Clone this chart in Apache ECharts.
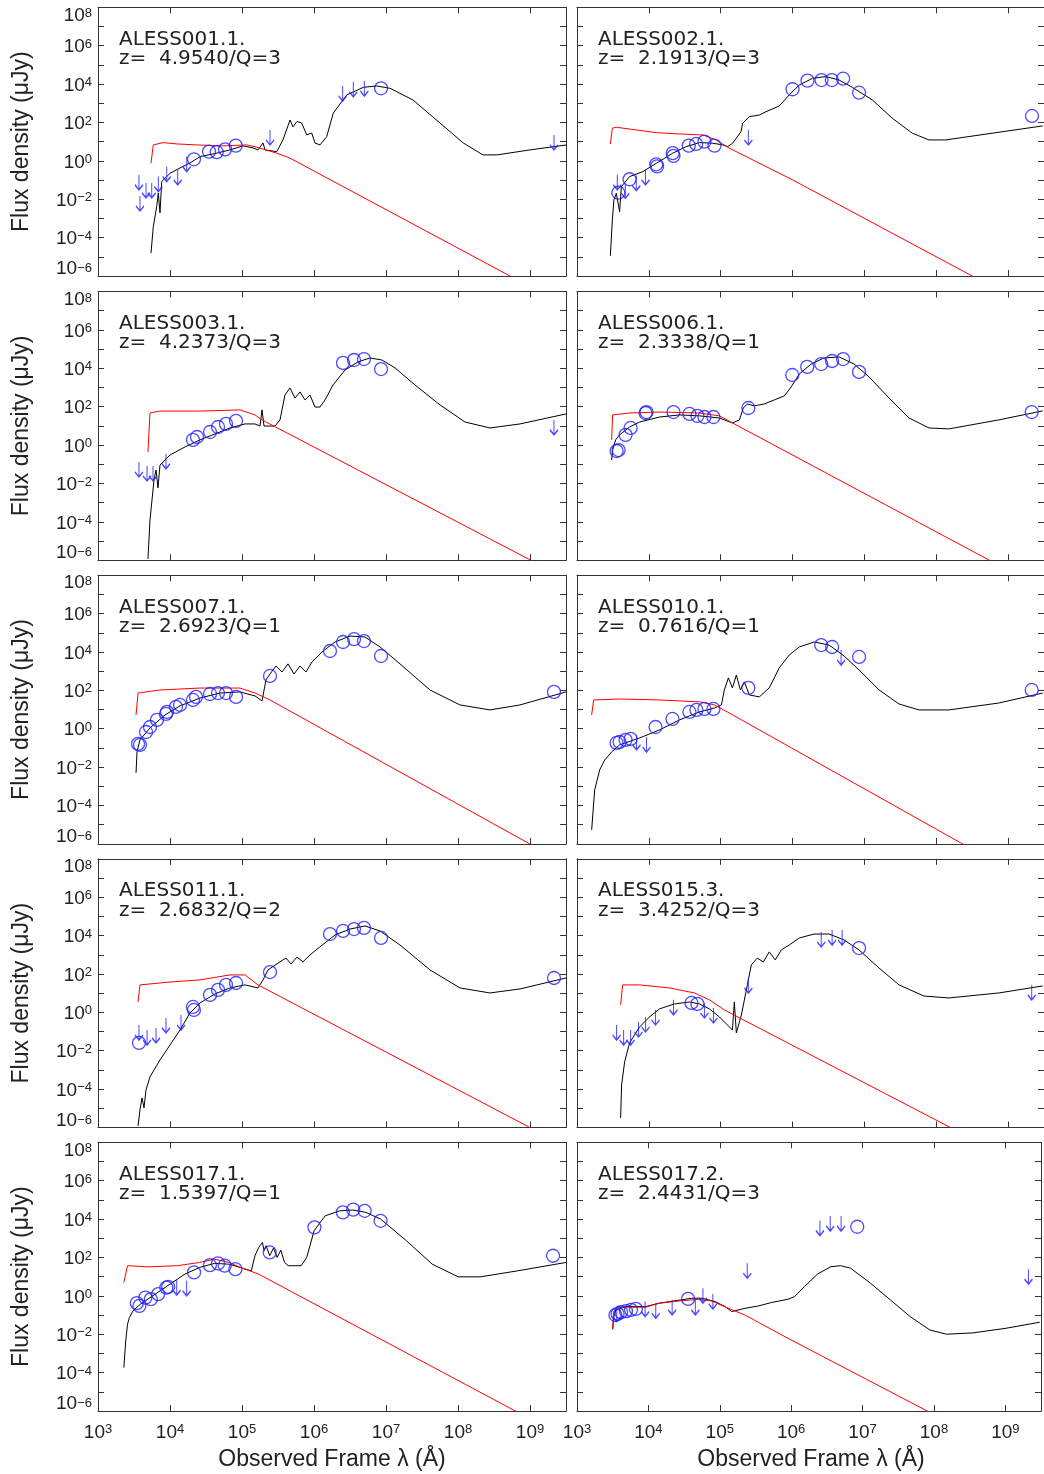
<!DOCTYPE html>
<html><head><meta charset="utf-8">
<script src="https://cdn.jsdelivr.net/npm/echarts@6/dist/echarts.min.js"></script>
<style>html,body{margin:0;padding:0;background:#fff}#c{width:1044px;height:1474px}</style>
</head><body><div id="c"></div>
<script>
// All values are log10: x = log10(observed wavelength / Angstrom), y = log10(flux density / microJy)
const sources = ["ALESS001.1.","ALESS002.1.","ALESS003.1.","ALESS006.1.","ALESS007.1.","ALESS010.1.","ALESS011.1.","ALESS015.3.","ALESS017.1.","ALESS017.2."];
const redshifts = ["4.9540","2.1913","4.2373","2.3338","2.6923","0.7616","2.6832","3.4252","1.5397","2.4431"];
const quality = [3,3,3,1,1,1,2,3,1,3];
const xTickExp = [3,4,5,6,7,8,9];
const yTickExp = [-6,-4,-2,0,2,4,6,8];

// ---- ALESS001.1 ----
const m1 = [[3.736,-4.81],[3.768,-3.43],[3.815,-2.39],[3.838,-1.67],[3.861,-2.71],[3.885,-1.08],[4.0,-0.65],[4.139,-0.37],[4.278,-0.11],[4.417,0.22],[4.649,0.40],[4.833,0.57],[5.014,0.78],[5.153,0.67],[5.222,0.57],[5.292,0.93],[5.32,0.57],[5.482,0.48],[5.569,1.09],[5.667,2.13],[5.708,1.77],[5.764,2.05],[5.829,1.97],[5.899,1.35],[5.968,1.45],[6.014,0.93],[6.083,0.83],[6.176,1.26],[6.268,2.49],[6.454,3.43],[6.685,3.83],[6.871,3.90],[7.056,3.78],[7.375,3.17],[7.75,1.97],[8.074,0.93],[8.347,0.31],[8.54,0.31],[9.0,0.57],[9.51,0.83]];
const s1 = [[3.736,-0.13],[3.768,0.83],[3.907,0.95],[4.1,0.88],[4.371,0.83],[4.736,0.78],[5.065,0.83],[5.204,0.71],[5.482,0.40],[5.667,0.14],[8.722,-6.0],[9.0,-6.56]];
const d1 = [[4.333,0.08],[4.542,0.48],[4.649,0.45],[4.764,0.60],[4.913,0.79],[6.931,3.78]];
const u1 = [[3.569,-0.73],[3.583,-1.83],[3.667,-1.15],[3.746,-1.15],[3.838,-0.82],[3.954,-0.30],[4.107,-0.47],[4.232,0.22],[5.389,1.61],[6.398,3.90],[6.546,4.12],[6.699,4.16],[9.333,1.35]];

// ---- ALESS002.1 ----
const m2 = [[3.464,-4.95],[3.492,-3.08],[3.514,-2.04],[3.547,-1.69],[3.593,-2.65],[3.617,-1.35],[3.732,-0.82],[3.917,-0.56],[4.103,-0.13],[4.333,0.40],[4.519,0.74],[4.704,0.95],[4.889,0.92],[5.028,0.83],[5.097,0.74],[5.167,0.92],[5.283,1.52],[5.306,1.96],[5.329,1.87],[5.399,2.30],[5.538,2.39],[5.631,2.56],[5.815,2.86],[5.954,3.43],[6.093,3.95],[6.278,4.30],[6.464,4.39],[6.649,4.21],[6.833,3.83],[7.111,3.17],[7.389,2.22],[7.667,1.44],[7.899,1.09],[8.131,1.09],[8.778,1.44],[9.482,1.82]];
const s2 = [[3.464,0.88],[3.492,1.70],[3.547,1.75],[3.825,1.61],[4.103,1.47],[4.426,1.40],[4.75,1.35],[4.936,1.09],[5.121,0.66],[6.0,-0.99],[8.5,-6.0],[9.0,-7.0]];
const d2 = [[3.575,-1.66],[3.732,-0.96],[4.103,-0.18],[4.114,-0.29],[4.333,0.40],[4.343,0.26],[4.556,0.79],[4.658,0.88],[4.774,1.0],[4.913,0.79],[6.0,3.73],[6.208,4.18],[6.403,4.21],[6.547,4.21],[6.704,4.28],[6.926,3.55],[9.333,2.34]];
const u2 = [[3.561,-0.73],[3.672,-1.17],[3.825,-0.77],[3.954,-0.47],[5.385,1.61]];

// ---- ALESS003.1 ----
const m3 = [[3.694,-5.93],[3.722,-3.90],[3.75,-2.86],[3.778,-1.82],[3.806,-1.30],[3.833,-2.23],[3.861,-1.04],[4.0,-0.52],[4.208,-0.10],[4.417,0.27],[4.625,0.58],[4.833,0.89],[5.042,1.10],[5.18,1.10],[5.25,0.99],[5.278,1.83],[5.306,0.99],[5.458,0.99],[5.528,1.31],[5.597,2.61],[5.667,2.97],[5.736,2.45],[5.806,2.77],[5.875,2.35],[5.944,2.61],[6.014,1.98],[6.083,1.98],[6.153,2.35],[6.264,3.13],[6.431,3.91],[6.611,4.33],[6.778,4.54],[6.944,4.43],[7.125,4.02],[7.403,3.13],[7.75,2.09],[8.097,1.20],[8.444,0.89],[8.861,1.10],[9.5,1.62]];
const s3 = [[3.694,-0.36],[3.722,1.67],[3.861,1.77],[4.417,1.77],[4.972,1.83],[5.181,1.57],[5.278,1.31],[9.0,-5.98],[9.5,-6.96]];
const d3 = [[4.319,0.27],[4.375,0.42],[4.556,0.68],[4.667,0.94],[4.778,1.10],[4.917,1.26],[6.403,4.28],[6.556,4.43],[6.694,4.48],[6.931,3.96]];
const u3 = [[3.569,-0.88],[3.681,-1.09],[3.764,-1.09],[3.944,-0.46],[9.333,1.31]];

// ---- ALESS006.1 ----
const m4 = [[3.482,-0.78],[3.496,-0.26],[3.538,0.27],[3.593,0.53],[3.732,0.94],[3.871,1.20],[4.149,1.46],[4.426,1.57],[4.704,1.52],[4.982,1.41],[5.163,1.15],[5.26,1.31],[5.315,1.93],[5.371,2.14],[5.468,2.04],[5.607,2.14],[5.746,2.35],[5.885,2.56],[5.982,3.03],[6.093,3.70],[6.26,4.22],[6.44,4.54],[6.649,4.59],[6.857,4.22],[7.065,3.55],[7.343,2.45],[7.621,1.41],[7.899,0.89],[8.176,0.84],[8.871,1.31],[9.482,1.78]];
const s4 = [[3.482,0.27],[3.496,1.57],[3.732,1.67],[4.149,1.72],[4.704,1.67],[4.982,1.52],[5.19,1.10],[8.729,-5.98],[9.0,-6.5]];
const d4 = [[3.551,-0.31],[3.579,-0.26],[3.676,0.53],[3.746,0.89],[3.954,1.67],[3.968,1.72],[4.343,1.72],[4.565,1.62],[4.676,1.52],[4.774,1.46],[4.899,1.46],[5.385,1.93],[5.996,3.65],[6.204,4.07],[6.399,4.22],[6.551,4.38],[6.704,4.48],[6.926,3.81],[9.329,1.72]];
const u4 = [];

// ---- ALESS007.1 ----
const m5 = [[3.528,-2.30],[3.542,-1.21],[3.583,-0.58],[3.722,0.04],[3.931,0.72],[4.139,1.19],[4.417,1.60],[4.694,1.86],[4.972,1.92],[5.181,1.71],[5.278,1.45],[5.333,2.54],[5.389,2.85],[5.472,3.27],[5.556,2.96],[5.639,3.38],[5.722,2.85],[5.806,3.27],[5.889,2.96],[5.972,3.48],[6.111,4.0],[6.292,4.52],[6.5,4.83],[6.708,4.78],[6.917,4.26],[7.194,3.38],[7.611,2.02],[8.028,1.24],[8.444,0.98],[8.861,1.24],[9.5,1.92]];
const s5 = [[3.528,0.72],[3.556,1.86],[3.861,2.02],[4.417,2.12],[4.972,2.12],[5.181,1.86],[5.389,1.50],[8.972,-5.95],[9.5,-7.0]];
const d5 = [[3.556,-0.79],[3.583,-0.84],[3.667,-0.17],[3.722,0.09],[3.819,0.46],[3.944,0.77],[3.958,0.88],[4.083,1.14],[4.139,1.24],[4.319,1.50],[4.361,1.66],[4.556,1.81],[4.667,1.86],[4.778,1.86],[4.917,1.66],[5.389,2.75],[6.222,4.05],[6.403,4.52],[6.556,4.67],[6.694,4.57],[6.931,3.79],[9.333,1.92]];
const u5 = [];

// ---- ALESS010.1 ----
const m6 = [[3.204,-5.27],[3.246,-3.19],[3.315,-2.15],[3.385,-1.63],[3.482,-1.21],[3.593,-0.84],[3.871,-0.48],[4.149,-0.06],[4.426,0.46],[4.704,0.875],[4.913,1.08],[5.01,1.24],[5.051,2.02],[5.107,2.65],[5.163,2.13],[5.218,2.80],[5.274,2.02],[5.329,2.44],[5.399,1.76],[5.538,1.66],[5.676,2.13],[5.815,3.17],[5.954,3.84],[6.093,4.26],[6.301,4.52],[6.509,4.36],[6.718,3.79],[6.926,3.06],[7.204,2.02],[7.482,1.29],[7.76,0.98],[8.176,0.98],[8.871,1.34],[9.482,1.86]];
const s6 = [[3.204,0.72],[3.232,1.50],[3.593,1.55],[4.149,1.50],[4.704,1.40],[4.913,1.24],[5.093,0.875],[8.343,-5.95],[8.6,-6.5]];
const d6 = [[3.551,-0.74],[3.593,-0.69],[3.676,-0.58],[3.746,-0.53],[4.093,0.09],[4.329,0.51],[4.565,0.875],[4.662,0.98],[4.774,1.03],[4.899,1.03],[5.385,2.13],[6.399,4.36],[6.551,4.26],[6.926,3.74],[9.329,2.02]];
const u6 = [[3.829,-0.32],[3.968,-0.43],[6.676,4.10]];

// ---- ALESS011.1 ----
const m7 = [[3.556,-5.92],[3.583,-5.08],[3.611,-4.46],[3.639,-4.98],[3.667,-4.04],[3.722,-3.36],[3.861,-2.48],[4.0,-1.70],[4.139,-0.92],[4.278,-0.03],[4.417,0.49],[4.625,0.96],[4.833,1.27],[5.042,1.43],[5.222,1.27],[5.292,1.69],[5.361,2.21],[5.444,2.42],[5.528,2.63],[5.611,2.83],[5.681,2.52],[5.764,2.88],[5.847,2.63],[5.944,2.99],[6.083,3.41],[6.292,4.03],[6.5,4.34],[6.708,4.50],[6.917,4.24],[7.194,3.51],[7.611,2.21],[8.028,1.27],[8.444,1.01],[8.861,1.22],[9.5,1.79]];
const s7 = [[3.556,0.54],[3.583,1.43],[4.0,1.58],[4.417,1.69],[4.833,1.95],[5.042,1.95],[5.222,1.43],[8.958,-5.92],[9.5,-7.0]];
const d7 = [[3.569,-1.59],[4.319,0.28],[4.333,0.125],[4.556,0.91],[4.667,1.17],[4.778,1.43],[4.917,1.53],[5.389,2.10],[6.222,4.08],[6.403,4.24],[6.556,4.34],[6.694,4.40],[6.931,3.875],[9.333,1.79]];
const u7 = [[3.569,-0.66],[3.681,-0.92],[3.806,-0.81],[3.944,-0.29],[4.153,-0.14]];

// ---- ALESS015.3 ----
const m8 = [[3.607,-5.5],[3.621,-3.78],[3.663,-2.58],[3.732,-1.59],[3.871,-0.76],[4.01,-0.24],[4.149,0.18],[4.357,0.44],[4.565,0.54],[4.704,0.44],[4.843,0.18],[4.982,-0.24],[5.121,-0.76],[5.163,-0.92],[5.19,0.54],[5.218,-1.07],[5.288,-0.14],[5.371,1.43],[5.426,2.47],[5.51,2.83],[5.593,2.62],[5.676,3.15],[5.76,2.73],[5.843,3.25],[5.954,3.51],[6.093,3.875],[6.301,4.08],[6.51,4.08],[6.718,3.77],[6.926,3.25],[7.204,2.31],[7.482,1.43],[7.829,0.85],[8.176,0.75],[8.871,1.01],[9.482,1.375]];
const s8 = [[3.607,0.39],[3.635,1.43],[3.871,1.43],[4.288,1.27],[4.635,1.01],[4.843,0.65],[5.051,0.125],[8.3,-6.2]];
const d8 = [[4.593,0.49],[4.676,0.44],[6.926,3.35]];
const u8 = [[3.551,-0.66],[3.649,-0.92],[3.746,-0.92],[3.857,-0.50],[3.954,-0.24],[4.093,0.125],[4.343,0.65],[4.774,0.49],[4.899,0.23],[5.385,1.79],[6.399,4.19],[6.551,4.29],[6.69,4.29],[9.329,1.43]];

// ---- ALESS017.1 ----
const m9 = [[3.359,-3.74],[3.385,-2.35],[3.41,-1.48],[3.436,-1.13],[3.487,-0.78],[3.59,-0.43],[3.795,0.09],[4.0,0.61],[4.206,1.13],[4.411,1.48],[4.616,1.69],[4.821,1.65],[4.975,1.48],[5.129,1.30],[5.18,2.09],[5.232,2.52],[5.283,2.78],[5.308,2.35],[5.334,2.61],[5.385,2.09],[5.437,2.49],[5.488,2.0],[5.539,2.38],[5.591,1.74],[5.642,1.57],[5.745,1.57],[5.822,1.57],[5.899,2.0],[6.001,3.39],[6.155,4.17],[6.36,4.43],[6.54,4.47],[6.719,4.35],[6.925,4.0],[7.284,2.87],[7.643,1.65],[8.002,0.99],[8.31,0.99],[8.823,1.30],[9.5,1.74]];
const s9 = [[3.359,0.70],[3.41,1.57],[3.693,1.51],[4.103,1.57],[4.411,1.74],[4.616,1.91],[4.821,1.74],[4.975,1.48],[5.232,1.13],[5.796,0.0],[8.797,-6.0],[9.5,-7.4]];
const d9 = [[3.539,-0.38],[3.575,-0.52],[3.657,-0.09],[3.734,-0.17],[3.836,0.09],[3.949,0.43],[3.975,0.47],[4.334,1.22],[4.554,1.60],[4.667,1.69],[4.76,1.57],[4.908,1.39],[5.385,2.26],[6.006,3.57],[6.401,4.35],[6.545,4.49],[6.704,4.43],[6.925,3.91],[9.32,2.09]];
const u9 = [[4.093,0.82],[4.231,0.78]];

// ---- ALESS017.2 ----
const m10 = [[3.5,-1.74],[3.514,-1.10],[3.547,-0.73],[3.686,-0.56],[3.964,-0.56],[4.149,-0.385],[4.611,-0.125],[4.75,-0.125],[4.936,-0.30],[5.075,-0.56],[5.167,-0.82],[5.353,-0.65],[5.538,-0.53],[5.722,-0.35],[5.954,-0.18],[6.047,-0.04],[6.186,0.48],[6.371,1.14],[6.556,1.52],[6.694,1.57],[6.833,1.44],[7.111,0.66],[7.389,-0.21],[7.667,-1.08],[7.944,-1.78],[8.176,-2.0],[8.547,-1.93],[9.01,-1.69],[9.482,-1.375]];
const s10 = [[3.5,-1.74],[3.514,-0.82],[3.569,-0.56],[3.686,-0.59],[3.964,-0.59],[4.149,-0.385],[4.426,-0.27],[4.704,-0.18],[4.889,-0.27],[5.075,-0.58],[5.353,-1.0],[5.954,-2.21],[7.875,-5.94],[8.2,-6.6]];
const d10 = [[3.538,-1.0],[3.569,-0.94],[3.617,-0.85],[3.686,-0.80],[3.756,-0.73],[3.825,-0.68],[4.556,-0.16],[6.926,3.60]];
const u10 = [[3.556,-0.56],[3.954,-0.30],[4.103,-0.385],[4.333,-0.21],[4.658,-0.21],[4.764,0.40],[4.903,0.10],[5.385,1.70],[6.403,3.92],[6.547,4.16],[6.7,4.16],[9.325,1.39]];

const models = [m1,m2,m3,m4,m5,m6,m7,m8,m9,m10];
const stellar = [s1,s2,s3,s4,s5,s6,s7,s8,s9,s10];
const detections = [d1,d2,d3,d4,d5,d6,d7,d8,d9,d10];
const limits = [u1,u2,u3,u4,u5,u6,u7,u8,u9,u10];

const FONT = '"Liberation Sans", Arial, sans-serif';
const TFONT = '"DejaVu Sans", "Liberation Sans", sans-serif';
const TXT = '#222';
const AX = '#333';
const BLUE = '#1f1fff';
const LEFTS = [98, 577], W = 468, H = 268.7;
const TOPS = [7.3, 291.5, 575.2, 858.8, 1142.3];

const isInt = v => Math.abs(v - Math.round(v)) < 1e-6;
const supText = e => (e < 0 ? '\u2212' + (-e) : '' + e);
const rich = {
  b: {fontFamily: FONT, fontSize: 19, color: TXT, lineHeight: 22, padding: [3, 0, 0, 0]},
  s: {fontFamily: FONT, fontSize: 13, color: TXT, verticalAlign: 'top', lineHeight: 14, padding: [3, 0, 0, 0]},
  bt: {fontFamily: FONT, fontSize: 19, color: TXT, lineHeight: 16},
  st: {fontFamily: FONT, fontSize: 13, color: TXT, verticalAlign: 'top', lineHeight: 10},
  bl: {fontFamily: FONT, fontSize: 19, color: TXT, lineHeight: 14},
  sl: {fontFamily: FONT, fontSize: 13, color: TXT, verticalAlign: 'top', lineHeight: 8}
};
const xFmt = v => (isInt(v) && xTickExp.includes(Math.round(v))) ? '{b|10}{s|' + supText(Math.round(v)) + '}' : '';
const yFmt = v => {
  if (!isInt(v)) return '';
  const e = Math.round(v);
  if (!yTickExp.includes(e)) return '';
  const k = e === yTickExp[yTickExp.length - 1] ? 't' : (e === yTickExp[0] ? 'l' : '');
  return '{b' + k + '|10}{s' + k + '|' + supText(e) + '}';
};

const grids = [], xAxes = [], yAxes = [], series = [], titles = [], graphics = [];
const lineCfg = {show: true, onZero: false, lineStyle: {color: AX, width: 1}};
const tickCfg = {show: true, inside: true, length: 6, lineStyle: {color: AX, width: 1}};

for (let i = 0; i < 10; i++) {
  const col = i % 2, row = Math.floor(i / 2);
  const L = LEFTS[col], T = TOPS[row];
  grids.push({left: L, top: T, width: W, height: H, show: false, containLabel: false});
  xAxes.push({type: 'value', gridIndex: i, min: 3, max: 9.5, interval: 1, position: 'bottom',
    axisLine: lineCfg, axisTick: tickCfg, splitLine: {show: false},
    axisLabel: {show: row === 4, formatter: xFmt, rich: rich, margin: 9, showMinLabel: true, showMaxLabel: true, hideOverlap: false}});
  xAxes.push({type: 'value', gridIndex: i, min: 3, max: 9.5, interval: 1, position: 'top',
    axisLine: lineCfg, axisTick: tickCfg, splitLine: {show: false}, axisLabel: {show: false}});
  yAxes.push({type: 'value', gridIndex: i, min: -6, max: 8, interval: 1, position: 'left',
    axisLine: lineCfg, axisTick: tickCfg, splitLine: {show: false},
    axisLabel: {show: col === 0, formatter: yFmt, rich: rich, margin: 6, hideOverlap: false,
      verticalAlignMaxLabel: 'top', verticalAlignMinLabel: 'bottom'}});
  yAxes.push({type: 'value', gridIndex: i, min: -6, max: 8, interval: 1, position: 'right',
    axisLine: lineCfg, axisTick: tickCfg, splitLine: {show: false}, axisLabel: {show: false}});

  const xi = 2 * i, yi = 2 * i;
  series.push({type: 'line', xAxisIndex: xi, yAxisIndex: yi, data: models[i], showSymbol: false, symbol: 'none',
    lineStyle: {color: '#000', width: 1}, z: 2, silent: true, clip: true});
  series.push({type: 'line', xAxisIndex: xi, yAxisIndex: yi, data: stellar[i], showSymbol: false, symbol: 'none',
    lineStyle: {color: '#ff0000', width: 1}, z: 3, silent: true, clip: true});
  series.push({type: 'scatter', xAxisIndex: xi, yAxisIndex: yi, data: detections[i], symbol: 'circle', symbolSize: 13,
    itemStyle: {color: 'rgba(0,0,0,0)', borderColor: BLUE, borderWidth: 1.3}, z: 5, silent: true});
  series.push({type: 'scatter', xAxisIndex: xi, yAxisIndex: yi, data: limits[i],
    symbol: 'path://M4,0L4,15M0,10L4,15L8,10', symbolSize: [8, 15], symbolOffset: [0, '50%'],
    itemStyle: {color: 'rgba(0,0,0,0)', borderColor: BLUE, borderWidth: 1.4}, z: 5, silent: true});

  titles.push({text: sources[i] + '\nz=  ' + redshifts[i] + '/Q=' + quality[i], left: L + 21, top: T + 22.5, padding: 0,
    textStyle: {fontFamily: TFONT, fontSize: 20, fontWeight: 'normal', color: TXT, lineHeight: 19.5}});

  if (col === 0) {
    graphics.push({type: 'text', x: 22, y: T + H / 2, rotation: Math.PI / 2, silent: true,
      style: {text: 'Flux density (\u03bcJy)', font: '23px ' + FONT, fill: TXT, align: 'center', verticalAlign: 'middle', textAlign: 'center', textVerticalAlign: 'middle'}});
  }
  if (row === 4) {
    graphics.push({type: 'text', x: L + W / 2, y: 1460, silent: true,
      style: {text: 'Observed Frame \u03bb (\u00c5)', font: '23px ' + FONT, fill: TXT, align: 'center', verticalAlign: 'middle', textAlign: 'center', textVerticalAlign: 'middle'}});
  }
}

const chart = echarts.init(document.getElementById('c'), null, {renderer: 'canvas'});
chart.setOption({
  animation: false,
  backgroundColor: '#fff',
  title: titles,
  grid: grids,
  xAxis: xAxes,
  yAxis: yAxes,
  series: series,
  graphic: graphics
});
</script>
</body></html>
